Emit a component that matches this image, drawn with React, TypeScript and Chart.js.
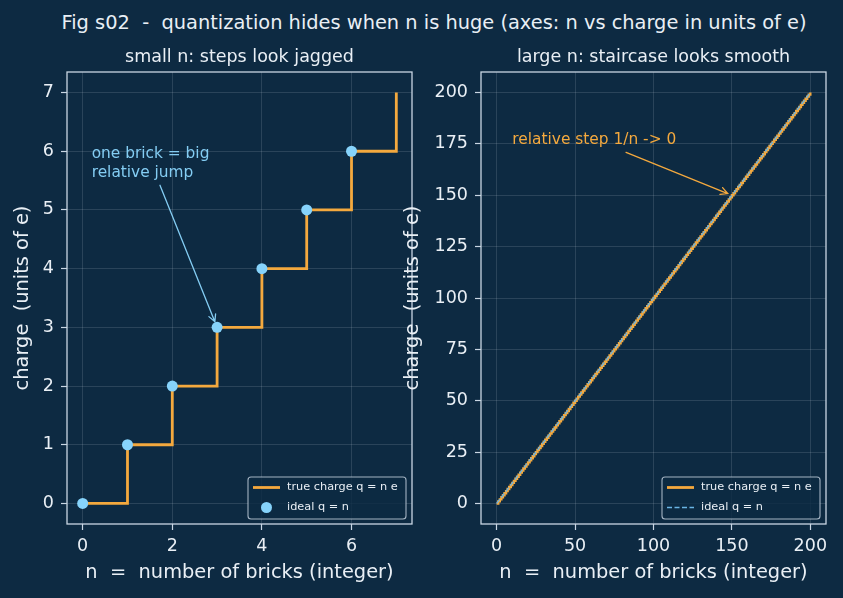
import { useEffect, useRef } from "react";
import { Chart, registerables } from "chart.js";

Chart.register(...registerables);

const FONT = '"DejaVu Sans", "Liberation Sans", sans-serif';
const BG = "#0d2a42";
const INK = "#e9eff5";
const SPINE = "#c9d6e3";
const GRID = "rgba(201,214,227,0.26)";
const ORANGE = "#f4a93e";
const SKY = "#86d3fb";
const SKY_NOTE = "#84cdf3";
const DASH_BLUE = "#6ab4e4";

const FIG_TITLE = "Fig s02  -  quantization hides when n is huge (axes: n vs charge in units of e)";
const SMALL_TITLE = "small n: steps look jagged";
const LARGE_TITLE = "large n: staircase looks smooth";
const X_LABEL = "n  =  number of bricks (integer)";
const Y_LABEL = "charge  (units of e)";
const TRUE_LABEL = "true charge q = n e";
const IDEAL_LABEL = "ideal q = n";

// small-n panel
const smallBricks = [0, 1, 2, 3, 4, 5, 6, 7];
const smallCharge = [0, 1, 2, 3, 4, 5, 6, 7];
const smallIdealN = [0, 1, 2, 3, 4, 5, 6];
const smallIdealQ = [0, 1, 2, 3, 4, 5, 6];
const smallXTicks = [0, 2, 4, 6];
const smallYTicks = [0, 1, 2, 3, 4, 5, 6, 7];

// large-n panel
const largeBricks = [
  0, 1, 2, 3, 4, 5, 6, 7, 8, 9, 10, 11, 12, 13, 14, 15, 16, 17, 18, 19,
  20, 21, 22, 23, 24, 25, 26, 27, 28, 29, 30, 31, 32, 33, 34, 35, 36, 37, 38, 39,
  40, 41, 42, 43, 44, 45, 46, 47, 48, 49, 50, 51, 52, 53, 54, 55, 56, 57, 58, 59,
  60, 61, 62, 63, 64, 65, 66, 67, 68, 69, 70, 71, 72, 73, 74, 75, 76, 77, 78, 79,
  80, 81, 82, 83, 84, 85, 86, 87, 88, 89, 90, 91, 92, 93, 94, 95, 96, 97, 98, 99,
  100, 101, 102, 103, 104, 105, 106, 107, 108, 109, 110, 111, 112, 113, 114, 115, 116, 117, 118, 119,
  120, 121, 122, 123, 124, 125, 126, 127, 128, 129, 130, 131, 132, 133, 134, 135, 136, 137, 138, 139,
  140, 141, 142, 143, 144, 145, 146, 147, 148, 149, 150, 151, 152, 153, 154, 155, 156, 157, 158, 159,
  160, 161, 162, 163, 164, 165, 166, 167, 168, 169, 170, 171, 172, 173, 174, 175, 176, 177, 178, 179,
  180, 181, 182, 183, 184, 185, 186, 187, 188, 189, 190, 191, 192, 193, 194, 195, 196, 197, 198, 199,
  200,
];
const largeCharge = [
  0, 1, 2, 3, 4, 5, 6, 7, 8, 9, 10, 11, 12, 13, 14, 15, 16, 17, 18, 19,
  20, 21, 22, 23, 24, 25, 26, 27, 28, 29, 30, 31, 32, 33, 34, 35, 36, 37, 38, 39,
  40, 41, 42, 43, 44, 45, 46, 47, 48, 49, 50, 51, 52, 53, 54, 55, 56, 57, 58, 59,
  60, 61, 62, 63, 64, 65, 66, 67, 68, 69, 70, 71, 72, 73, 74, 75, 76, 77, 78, 79,
  80, 81, 82, 83, 84, 85, 86, 87, 88, 89, 90, 91, 92, 93, 94, 95, 96, 97, 98, 99,
  100, 101, 102, 103, 104, 105, 106, 107, 108, 109, 110, 111, 112, 113, 114, 115, 116, 117, 118, 119,
  120, 121, 122, 123, 124, 125, 126, 127, 128, 129, 130, 131, 132, 133, 134, 135, 136, 137, 138, 139,
  140, 141, 142, 143, 144, 145, 146, 147, 148, 149, 150, 151, 152, 153, 154, 155, 156, 157, 158, 159,
  160, 161, 162, 163, 164, 165, 166, 167, 168, 169, 170, 171, 172, 173, 174, 175, 176, 177, 178, 179,
  180, 181, 182, 183, 184, 185, 186, 187, 188, 189, 190, 191, 192, 193, 194, 195, 196, 197, 198, 199,
  200,
];
const largeIdealN = [0, 200];
const largeIdealQ = [0, 200];
const largeXTicks = [0, 50, 100, 150, 200];
const largeYTicks = [0, 25, 50, 75, 100, 125, 150, 175, 200];

type Note = {
  lines: string[];
  x: number;
  y: number;
  color: string;
  tail: [number, number];
  target: [number, number];
  shrink: number;
};

type Panel = {
  title: string;
  idealStyle: "dot" | "dash";
  note: Note;
};

const smallNote: Note = {
  lines: ["one brick = big", "relative jump"],
  x: 0.2,
  y: 5.88,
  color: SKY_NOTE,
  tail: [1.725, 5.42],
  target: [3, 3],
  shrink: 6,
};

const largeNote: Note = {
  lines: ["relative step 1/n -> 0"],
  x: 10,
  y: 175,
  color: ORANGE,
  tail: [82.5, 170.9],
  target: [150, 150],
  shrink: 4.5,
};

function drawArrow(ctx: CanvasRenderingContext2D, x1: number, y1: number, x2: number, y2: number, shrink: number, color: string) {
  const dx = x2 - x1;
  const dy = y2 - y1;
  const len = Math.hypot(dx, dy);
  const ux = dx / len;
  const uy = dy / len;
  const ex = x2 - ux * shrink;
  const ey = y2 - uy * shrink;
  ctx.strokeStyle = color;
  ctx.lineWidth = 1.3;
  ctx.lineCap = "round";
  ctx.beginPath();
  ctx.moveTo(x1, y1);
  ctx.lineTo(ex, ey);
  const hl = 7;
  const hw = 3.6;
  const bx = ex - ux * hl;
  const by = ey - uy * hl;
  ctx.moveTo(bx - uy * hw, by + ux * hw);
  ctx.lineTo(ex, ey);
  ctx.lineTo(bx + uy * hw, by - ux * hw);
  ctx.stroke();
}

function panelPlugin(p: Panel) {
  return {
    id: "panelDecor",
    afterDatasetsDraw(chart: any) {
      const { ctx, chartArea: a, scales } = chart;
      const xs = scales.x;
      const ys = scales.y;
      ctx.save();

      // frame on all four sides
      ctx.strokeStyle = SPINE;
      ctx.lineWidth = 1.3;
      ctx.strokeRect(a.left, a.top, a.right - a.left, a.bottom - a.top);

      // panel title
      ctx.fillStyle = INK;
      ctx.font = `17.5px ${FONT}`;
      ctx.textAlign = "center";
      ctx.textBaseline = "alphabetic";
      ctx.fillText(p.title, (a.left + a.right) / 2, a.top - 10);

      // annotation text + arrow
      const n = p.note;
      ctx.fillStyle = n.color;
      ctx.font = `15.4px ${FONT}`;
      ctx.textAlign = "left";
      const tx = xs.getPixelForValue(n.x);
      const ty = ys.getPixelForValue(n.y);
      n.lines.forEach((line, i) => ctx.fillText(line, tx, ty + i * 18.6));
      drawArrow(
        ctx,
        xs.getPixelForValue(n.tail[0]),
        ys.getPixelForValue(n.tail[1]),
        xs.getPixelForValue(n.target[0]),
        ys.getPixelForValue(n.target[1]),
        n.shrink,
        n.color
      );

      // legend box, lower right
      const w = 158;
      const h = 42;
      const bx = a.right - 6 - w;
      const by = a.bottom - 5 - h;
      ctx.globalAlpha = 0.8;
      ctx.fillStyle = BG;
      ctx.strokeStyle = SPINE;
      ctx.lineWidth = 1.1;
      ctx.beginPath();
      ctx.roundRect(bx, by, w, h, 3);
      ctx.fill();
      ctx.stroke();
      ctx.globalAlpha = 1;

      const r1 = by + 10.5;
      const r2 = by + 30.5;
      ctx.strokeStyle = ORANGE;
      ctx.lineWidth = 2.8;
      ctx.lineCap = "butt";
      ctx.beginPath();
      ctx.moveTo(bx + 5, r1);
      ctx.lineTo(bx + 32, r1);
      ctx.stroke();

      if (p.idealStyle === "dot") {
        ctx.fillStyle = SKY;
        ctx.beginPath();
        ctx.arc(bx + 18.5, r2, 5.5, 0, Math.PI * 2);
        ctx.fill();
      } else {
        ctx.strokeStyle = DASH_BLUE;
        ctx.lineWidth = 1.4;
        ctx.setLineDash([5, 2.5]);
        ctx.beginPath();
        ctx.moveTo(bx + 5, r2);
        ctx.lineTo(bx + 32, r2);
        ctx.stroke();
        ctx.setLineDash([]);
      }

      ctx.fillStyle = INK;
      ctx.font = `11.3px ${FONT}`;
      ctx.textBaseline = "middle";
      ctx.fillText(TRUE_LABEL, bx + 39, r1);
      ctx.fillText(IDEAL_LABEL, bx + 39, r2);

      ctx.restore();
    },
  };
}

function axis(opts: {
  isX: boolean;
  min: number;
  max: number;
  ticks: number[];
  size: number;
  titlePad: number;
}) {
  const { isX, min, max, ticks, size, titlePad } = opts;
  return {
    type: "linear",
    position: isX ? "bottom" : "left",
    min,
    max,
    afterBuildTicks: (s: any) => {
      s.ticks = ticks.map((v) => ({ value: v }));
    },
    afterFit: (s: any) => {
      if (isX) s.height = size;
      else s.width = size;
    },
    border: { display: false },
    grid: {
      color: GRID,
      lineWidth: 0.6,
      drawTicks: true,
      tickLength: 6,
      tickWidth: 1.2,
      tickColor: SPINE,
    },
    ticks: {
      autoSkip: false,
      maxRotation: 0,
      color: INK,
      padding: isX ? 6 : 7,
      font: { family: FONT, size: 17.5 },
      callback: (v: any) => String(v),
    },
    title: {
      display: true,
      text: isX ? X_LABEL : Y_LABEL,
      color: INK,
      font: { family: FONT, size: 19.4 },
      padding: isX ? { top: 0, bottom: titlePad } : { top: titlePad, bottom: 0 },
    },
  };
}

function points(xs: number[], ys: number[]) {
  return xs.map((x, i) => ({ x, y: ys[i] }));
}

export default function App() {
  const leftRef = useRef<HTMLCanvasElement>(null);
  const rightRef = useRef<HTMLCanvasElement>(null);

  useEffect(() => {
    document.body.style.margin = "0";
    document.body.style.background = BG;

    // lower `order` is painted last, so the ideal marks sit above the staircase
    const left = new Chart(leftRef.current as HTMLCanvasElement, {
      type: "scatter",
      data: {
        datasets: [
          {
            label: TRUE_LABEL,
            data: points(smallBricks, smallCharge),
            showLine: true,
            stepped: "before",
            borderColor: ORANGE,
            borderWidth: 2.8,
            pointRadius: 0,
            fill: false,
            order: 2,
          },
          {
            label: IDEAL_LABEL,
            data: points(smallIdealN, smallIdealQ),
            showLine: false,
            pointRadius: 5.5,
            pointBackgroundColor: SKY,
            pointBorderWidth: 0,
            order: 1,
          },
        ],
      } as any,
      options: {
        animation: false,
        responsive: false,
        devicePixelRatio: 1,
        layout: { padding: { top: 72, right: 18, bottom: 0, left: 0 } },
        plugins: { legend: { display: false }, tooltip: { enabled: false } },
        scales: {
          x: axis({ isX: true, min: -0.35, max: 7.35, ticks: smallXTicks, size: 74, titlePad: 13.4 }),
          y: axis({ isX: false, min: -0.35, max: 7.35, ticks: smallYTicks, size: 67, titlePad: 11.4 }),
        } as any,
      },
      plugins: [panelPlugin({ title: SMALL_TITLE, idealStyle: "dot", note: smallNote })],
    });

    const right = new Chart(rightRef.current as HTMLCanvasElement, {
      type: "scatter",
      data: {
        datasets: [
          {
            label: TRUE_LABEL,
            data: points(largeBricks, largeCharge),
            showLine: true,
            stepped: "before",
            borderColor: ORANGE,
            borderWidth: 2.4,
            pointRadius: 0,
            fill: false,
            order: 2,
          },
          {
            label: IDEAL_LABEL,
            data: points(largeIdealN, largeIdealQ),
            showLine: true,
            borderColor: DASH_BLUE,
            borderWidth: 1.3,
            borderDash: [5, 2.5],
            pointRadius: 0,
            fill: false,
            order: 1,
          },
        ],
      } as any,
      options: {
        animation: false,
        responsive: false,
        devicePixelRatio: 1,
        layout: { padding: { top: 72, right: 17, bottom: 0, left: 0 } },
        plugins: { legend: { display: false }, tooltip: { enabled: false } },
        scales: {
          x: axis({ isX: true, min: -10, max: 210, ticks: largeXTicks, size: 74, titlePad: 13.4 }),
          y: axis({ isX: false, min: -10, max: 210, ticks: largeYTicks, size: 81, titlePad: 1.4 }),
        } as any,
      },
      plugins: [panelPlugin({ title: LARGE_TITLE, idealStyle: "dash", note: largeNote })],
    });

    return () => {
      left.destroy();
      right.destroy();
    };
  }, []);

  return (
    <div
      style={{
        position: "relative",
        width: 843,
        height: 598,
        background: BG,
        overflow: "hidden",
        fontFamily: FONT,
      }}
    >
      <div
        style={{
          position: "absolute",
          left: 0,
          top: 12.6,
          width: 868,
          textAlign: "center",
          fontSize: 19.4,
          lineHeight: "19.4px",
          color: INK,
          whiteSpace: "pre",
        }}
      >
        {FIG_TITLE}
      </div>
      <canvas ref={leftRef} width={430} height={598} style={{ position: "absolute", left: 0, top: 0 }} />
      <canvas ref={rightRef} width={443} height={598} style={{ position: "absolute", left: 400, top: 0 }} />
    </div>
  );
}
